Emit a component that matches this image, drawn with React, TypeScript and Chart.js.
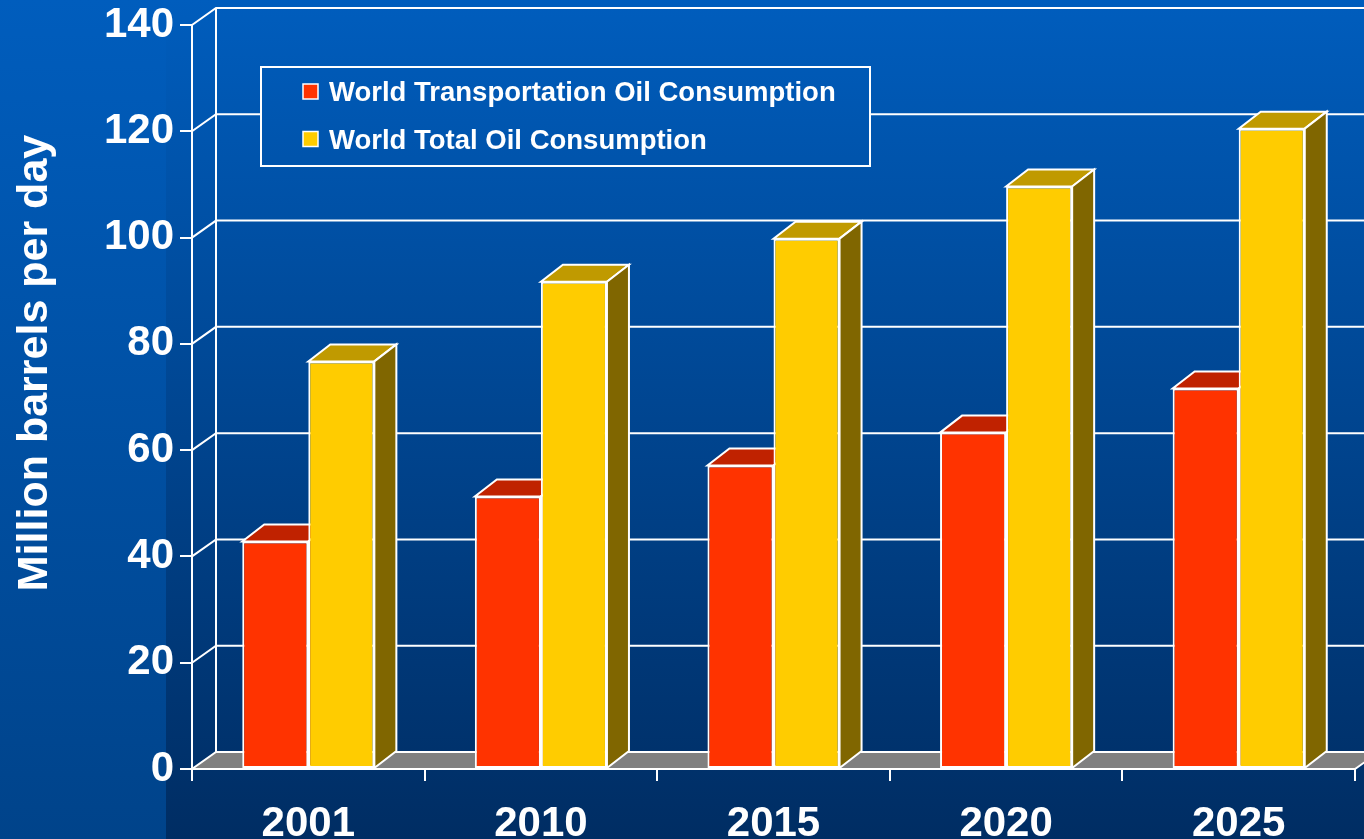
import React, { useEffect, useRef } from 'react';
import { Chart, registerables } from 'chart.js';

Chart.register(...registerables);

const categories = ['2001', '2010', '2015', '2020', '2025'];
const transportationValues = [42.8, 51.3, 57.1, 63.3, 71.6];
const totalValues = [76.7, 91.7, 99.8, 109.6, 120.5];
const seriesNames = ['World Transportation Oil Consumption', 'World Total Oil Consumption'];
const yAxisTitle = 'Million barrels per day';
const yMin = 0;
const yMax = 140;
const yStep = 20;

const FONT = '"Liberation Sans", Arial, Helvetica, sans-serif';
const frontColors = ['#FF3300', '#FFCC00'];
const topColors = ['#C02200', '#C09A00'];
const sideColors = ['#802000', '#806600'];

const WALL_DX = 24;
const WALL_DY = 17;
const BAR_DX = 22;
const BAR_DY = 17;

function gradRight(ctx: CanvasRenderingContext2D, h: number) {
  const g = ctx.createLinearGradient(0, 0, 0, h);
  g.addColorStop(0, '#005DBD');
  g.addColorStop(1, '#002D63');
  return g;
}
function gradLeft(ctx: CanvasRenderingContext2D, h: number) {
  const g = ctx.createLinearGradient(0, 0, 0, h);
  g.addColorStop(0, '#005DBD');
  g.addColorStop(1, '#00438A');
  return g;
}

function poly(ctx: CanvasRenderingContext2D, pts: number[][], fill: string | CanvasGradient, stroke: string, lw: number) {
  ctx.beginPath();
  ctx.moveTo(pts[0][0], pts[0][1]);
  for (let i = 1; i < pts.length; i++) ctx.lineTo(pts[i][0], pts[i][1]);
  ctx.closePath();
  ctx.fillStyle = fill;
  ctx.fill();
  ctx.strokeStyle = stroke;
  ctx.lineWidth = lw;
  ctx.lineJoin = 'miter';
  ctx.stroke();
}

const threeDPlugin = {
  id: 'threeD',
  beforeDraw(chart: any) {
    const { ctx, width, height } = chart;
    ctx.save();
    ctx.fillStyle = gradLeft(ctx, height);
    ctx.fillRect(0, 0, 166, height);
    ctx.fillStyle = gradRight(ctx, height);
    ctx.fillRect(166, 0, width - 166, height);
    ctx.restore();
  },
  beforeDatasetsDraw(chart: any) {
    const { ctx, chartArea, width } = chart;
    const { left, right, top, bottom } = chartArea;
    const yScale = chart.scales.y;
    ctx.save();
    ctx.strokeStyle = '#FFFFFF';
    ctx.lineWidth = 2;
    // back wall vertical edge
    ctx.beginPath();
    ctx.moveTo(left + WALL_DX, top - WALL_DY);
    ctx.lineTo(left + WALL_DX, bottom - WALL_DY);
    ctx.stroke();
    // gridlines on side wall and back wall
    yScale.ticks.forEach((t: any) => {
      if (t.value === yMin) return;
      const y = yScale.getPixelForValue(t.value);
      ctx.beginPath();
      ctx.moveTo(left, y);
      ctx.lineTo(left + WALL_DX, y - WALL_DY);
      ctx.lineTo(width + 10, y - WALL_DY);
      ctx.stroke();
    });
    // floor
    poly(ctx, [[left, bottom], [right, bottom], [right + WALL_DX, bottom - WALL_DY], [left + WALL_DX, bottom - WALL_DY]], '#808080', '#FFFFFF', 2);
    // 3D faces of bars
    chart.data.datasets.forEach((ds: any, di: number) => {
      const meta = chart.getDatasetMeta(di);
      meta.data.forEach((bar: any) => {
        const p = bar.getProps(['x', 'y', 'base', 'width'], true);
        const L = p.x - p.width / 2;
        const R = p.x + p.width / 2;
        const yT = p.y;
        const yB = p.base;
        poly(ctx, [[L, yT], [R, yT], [R + BAR_DX, yT - BAR_DY], [L + BAR_DX, yT - BAR_DY]], topColors[di], '#FFFFFF', 2);
        poly(ctx, [[R, yT], [R + BAR_DX, yT - BAR_DY], [R + BAR_DX, yB - BAR_DY], [R, yB]], sideColors[di], '#FFFFFF', 2);
      });
    });
    ctx.restore();
  },
  afterDraw(chart: any) {
    const { ctx, height } = chart;
    ctx.save();
    // y axis title
    ctx.translate(47, 363);
    ctx.rotate(-Math.PI / 2);
    ctx.fillStyle = '#FFFFFF';
    ctx.font = `bold 43px ${FONT}`;
    ctx.textAlign = 'center';
    ctx.textBaseline = 'alphabetic';
    ctx.fillText(yAxisTitle, 0, 0);
    ctx.restore();

    // legend
    ctx.save();
    ctx.fillStyle = gradRight(ctx, height);
    ctx.fillRect(261, 67, 609, 99);
    ctx.strokeStyle = '#FFFFFF';
    ctx.lineWidth = 2;
    ctx.strokeRect(261, 67, 609, 99);
    ctx.font = `bold 27.5px ${FONT}`;
    ctx.textAlign = 'left';
    ctx.textBaseline = 'alphabetic';
    seriesNames.forEach((name, i) => {
      const rowY = 84 + i * 47.5;
      ctx.fillStyle = frontColors[i];
      ctx.fillRect(303, rowY, 15, 15);
      ctx.lineWidth = 1.5;
      ctx.strokeStyle = '#FFFFFF';
      ctx.strokeRect(303, rowY, 15, 15);
      ctx.fillStyle = '#FFFFFF';
      ctx.fillText(name, 329, rowY + 17);
    });
    ctx.restore();
  },
};

export default function App() {
  const canvasRef = useRef<HTMLCanvasElement | null>(null);

  useEffect(() => {
    document.body.style.margin = '0';
    document.body.style.overflow = 'hidden';
    const canvas = canvasRef.current;
    if (!canvas) return;
    const tickFont = { family: FONT, size: 42, weight: 'bold' as const };
    const chart = new Chart(canvas, {
      type: 'bar',
      data: {
        labels: categories,
        datasets: [
          {
            label: seriesNames[0],
            data: transportationValues,
            backgroundColor: frontColors[0],
            borderColor: '#FFFFFF',
            borderWidth: 2,
            borderSkipped: false,
            barPercentage: 1,
            categoryPercentage: 0.568,
          },
          {
            label: seriesNames[1],
            data: totalValues,
            backgroundColor: frontColors[1],
            borderColor: '#FFFFFF',
            borderWidth: 2,
            borderSkipped: false,
            barPercentage: 1,
            categoryPercentage: 0.568,
          },
        ],
      },
      options: {
        responsive: false,
        animation: false,
        devicePixelRatio: 1,
        layout: { padding: { top: 25, right: 9, left: 0, bottom: 0 } },
        plugins: {
          legend: { display: false },
          tooltip: { enabled: false },
        },
        scales: {
          x: {
            grid: { drawOnChartArea: false, color: '#FFFFFF', lineWidth: 2, tickLength: 12, offset: true },
            border: { color: '#FFFFFF', width: 2 },
            ticks: { color: '#FFFFFF', font: tickFont, padding: 18, maxRotation: 0, autoSkip: false },
            afterFit: (s: any) => {
              s.height = 70;
              s.paddingLeft = 0;
              s.paddingRight = 0;
            },
          },
          y: {
            min: yMin,
            max: yMax,
            grid: { drawOnChartArea: false, color: '#FFFFFF', lineWidth: 2, tickLength: 12 },
            border: { color: '#FFFFFF', width: 2 },
            ticks: { stepSize: yStep, color: '#FFFFFF', font: tickFont, padding: 6 },
            afterFit: (s: any) => {
              s.width = 192;
              s.paddingTop = 0;
              s.paddingBottom = 0;
            },
          },
        },
      },
      plugins: [threeDPlugin],
    });
    return () => chart.destroy();
  }, []);

  return (
    <div style={{ position: 'fixed', left: 0, top: 0, width: 1364, height: 839 }}>
      <canvas ref={canvasRef} width={1364} height={839} style={{ display: 'block' }} />
    </div>
  );
}
